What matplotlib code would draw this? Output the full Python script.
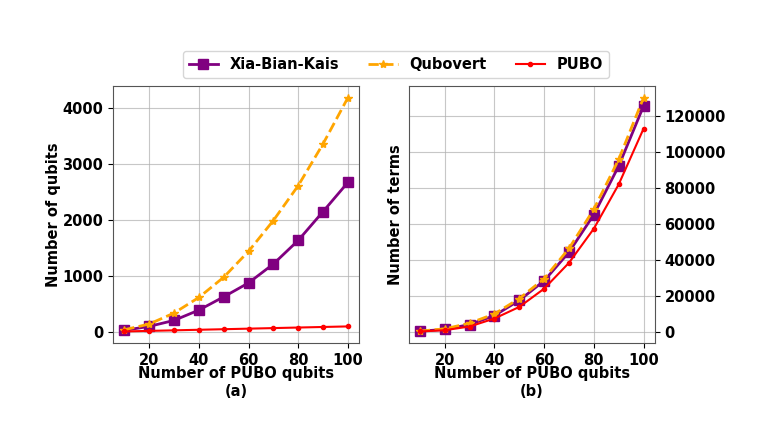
import matplotlib
matplotlib.use("Agg")
import matplotlib.pyplot as plt

# PUBO qubit counts (x axis)
n_qubits = [10, 20, 30, 40, 50, 60, 70, 80, 90, 100]

# (a) number of qubits
xbk_qubits = [30, 100, 207, 391, 628, 877, 1215, 1637, 2152, 2674]
qubovert_qubits = [40, 142, 338, 617, 978, 1441, 1992, 2615, 3362, 4187]
pubo_qubits = [10, 20, 30, 40, 50, 60, 70, 80, 90, 100]

# (b) number of terms
xbk_terms = [370, 1300, 4060, 9050, 17500, 28400, 44300, 65200, 92200, 125600]
qubovert_terms = [400, 1660, 4800, 9970, 18500, 29550, 46400, 68200, 95900, 130200]
pubo_terms = [200, 900, 2950, 7400, 13850, 24000, 38400, 57400, 82000, 113000]

plt.rcParams['font.weight'] = 'bold'
plt.rcParams['axes.labelweight'] = 'bold'
plt.rcParams['font.size'] = 10.5

fig = plt.figure(figsize=(7.64, 4.3), dpi=100)
ax1 = fig.add_axes([0.148, 0.202, 0.322, 0.598])
ax2 = fig.add_axes([0.535, 0.202, 0.322, 0.598])

for ax, a, b, c in [(ax1, xbk_qubits, qubovert_qubits, pubo_qubits),
                    (ax2, xbk_terms, qubovert_terms, pubo_terms)]:
    ax.plot(n_qubits, a, '-s', color='purple', lw=2, ms=7, label='Xia-Bian-Kais')
    ax.plot(n_qubits, b, '--*', color='orange', lw=2, ms=6, label='Qubovert')
    ax.plot(n_qubits, c, '-o', color='red', lw=1.5, ms=3, label='PUBO')
    ax.grid(True, color='#b0b0b0', alpha=0.7)
    ax.set_xticks([20, 40, 60, 80, 100])
    ax.tick_params(labelsize=10.5)
    for s in ax.spines.values():
        s.set_color('#555555')

ax1.set_xlabel("Number of PUBO qubits\n(a)", labelpad=-1)
ax1.set_ylabel("Number of qubits", labelpad=1)
ax2.set_xlabel("Number of PUBO qubits\n(b)", labelpad=-1)
ax2.set_ylabel("Number of terms")
ax2.yaxis.tick_right()

handles, labels = ax1.get_legend_handles_labels()
fig.legend(handles, labels, loc='center', bbox_to_anchor=(0.518, 0.85), ncol=3,
           frameon=True, fontsize=10.5, columnspacing=2.0)

plt.savefig('out.png', dpi=100)
